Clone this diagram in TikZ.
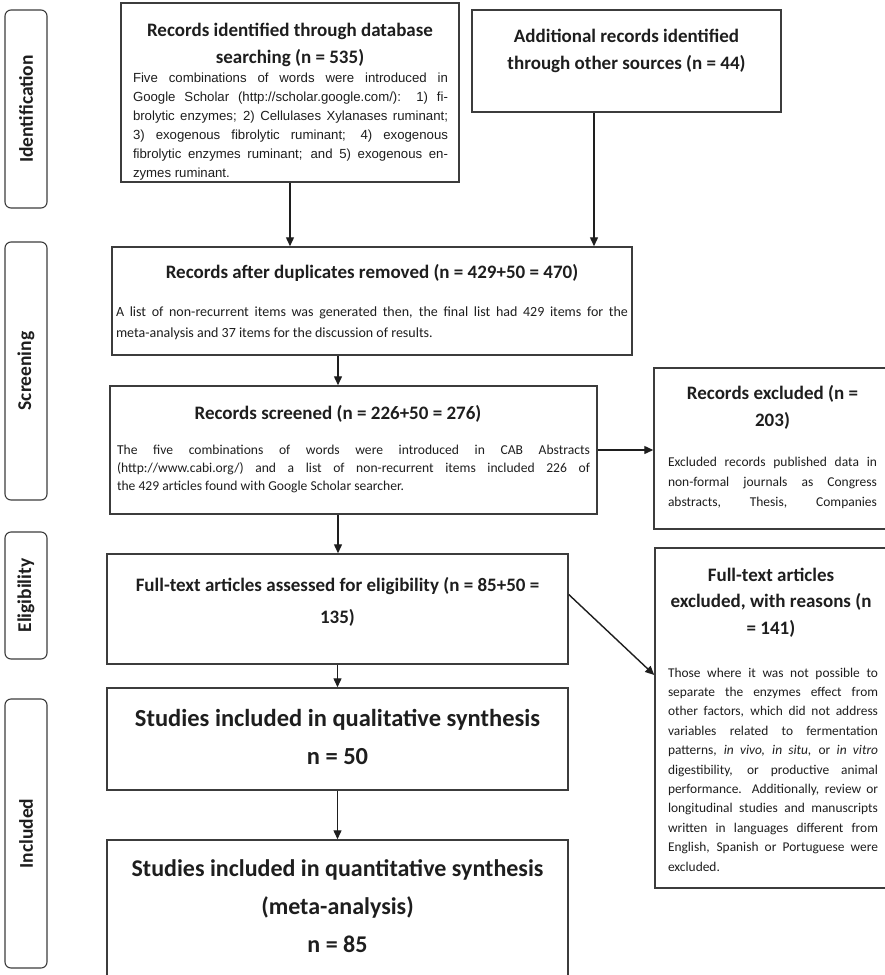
\documentclass[tikz,border=0pt]{standalone}
\usepackage{fontspec}
\setmainfont{Carlito}
\newfontfamily\arialfont{Liberation Sans}
\usetikzlibrary{arrows.meta}
\newlength{\spreadw}
\newcommand{\spreadline}[1]{\makebox[\spreadw][s]{\spaceskip=0pt\xspaceskip=0pt #1}}

\begin{document}
\begin{tikzpicture}[x=1pt,y=-1pt]
  \definecolor{frame}{HTML}{3C3C3C}
  \definecolor{ink}{HTML}{1E1E1E}
  \useasboundingbox (0,0) rectangle (885,975);
  \fill[white] (0,0) rectangle (885,975);
  \clip (0,0) rectangle (885,975);

  \tikzset{
    stage/.style={draw=frame, line width=1.1pt, rounded corners=6pt, rotate=90,
      minimum height=42pt, inner sep=0pt, text=ink, font=\bfseries\fontsize{19.5}{23}\selectfont},
    box/.style={draw=frame, line width=1.5pt, inner sep=0pt},
    head/.style={anchor=north, inner sep=0pt, align=center, text=ink,
      font=\bfseries\fontsize{19}{27}\selectfont},
    spreadwidth/.code={\setlength{\spreadw}{#1}},
    body/.style={anchor=north, inner sep=0pt, align=justify, text=ink,
      text width=#1, spreadwidth=#1},
    flow/.style={line width=1.4pt, draw=ink, -{Triangle[length=9pt,width=8pt]}}
  }

  % Stages down the left margin.
  \node[stage, minimum width=198pt] (ident) at (26,109) {Identification};
  \node[stage, minimum width=258pt] (screen) at (26,371) {Screening};
  \node[stage, minimum width=127pt] (elig) at (26,595.5) {Eligibility};
  \node[stage, minimum width=269pt] (incl) at (26,833.5) {Included};

  % Frames; the ones at the right and bottom run past the page edge.
  \node[box, minimum width=338pt, minimum height=179pt] (dbsearch) at (290,92.5) {};
  \node[box, minimum width=309pt, minimum height=102pt] (othersrc) at (626.5,61) {};
  \node[box, minimum width=520pt, minimum height=108pt] (dedup) at (372,301) {};
  \node[box, minimum width=487pt, minimum height=128pt] (screened) at (353.5,450) {};
  \node[box, minimum width=246pt, minimum height=161pt] (recexcl) at (777,448.5) {};
  \node[box, minimum width=461pt, minimum height=110pt] (fulltext) at (337.5,609) {};
  \node[box, minimum width=246pt, minimum height=340pt] (ftexcl) at (778,718) {};
  \node[box, minimum width=461pt, minimum height=102pt] (qual) at (337.5,739) {};
  \node[box, minimum width=461pt, minimum height=160pt] (quant) at (337.5,920) {};

  \node[head] (dbsearch-head) at (290,17.1) {\strut Records identified through database\\searching (n = 535)};
  \node[body=315pt, font=\arialfont\fontsize{13.2}{19}\selectfont] (dbsearch-body) at (290.5,68.7)
    {\strut\spreadline{Five combinations of words were introduced in}\\
     \spreadline{Google Scholar (http://scholar.google.com/): 1) fi-}\\
     \spreadline{brolytic enzymes; 2) Cellulases Xylanases ruminant;}\\
     \spreadline{3) exogenous fibrolytic ruminant; 4) exogenous}\\
     \spreadline{fibrolytic enzymes ruminant; and 5) exogenous en-}\\
     zymes ruminant.};
  \node[head] (othersrc-head) at (626.5,23.1) {\strut Additional records identified\\through other sources (n = 44)};

  \node[head] (dedup-head) at (372,259.1) {\strut Records after duplicates removed (n = 429+50 = 470)};
  \node[body=512pt, font=\fontsize{14}{21}\selectfont] (dedup-body) at (372,301.3)
    {\strut\spreadline{A list of non-recurrent items was generated then, the final list had 429 items for the}\\
     meta-analysis and 37 items for the discussion of results.};

  \node[head] (screened-head) at (338,400.1) {\strut Records screened (n = 226+50 = 276)};
  \node[body=473pt, font=\fontsize{13.6}{18}\selectfont] (screened-body) at (353.5,441.4)
    {\strut\spreadline{The five combinations of words were introduced in CAB Abstracts}\\
     \spreadline{(http://www.cabi.org/) and a list of non-recurrent items included 226 of}\\
     the 429 articles found with Google Scholar searcher.};

  \node[head] (recexcl-head) at (772.5,380.1) {\strut Records excluded (n =\\203)};
  \node[body=209pt, font=\fontsize{13.5}{20}\selectfont] (recexcl-body) at (772.5,452)
    {\strut\spreadline{Excluded records published data in}\\
     \spreadline{non-formal journals as Congress}\\
     \spreadline{abstracts, Thesis, Companies}};

  \node[head, font=\bfseries\fontsize{19}{32}\selectfont] (fulltext-head) at (337.5,568.6)
    {\strut Full-text articles assessed for eligibility (n = 85+50 =\\135)};

  \node[head, font=\bfseries\fontsize{19}{26.5}\selectfont] (ftexcl-head) at (771,562.5)
    {\strut Full-text articles\\excluded, with reasons (n\\= 141)};
  \node[body=210pt, font=\fontsize{13.4}{19.4}\selectfont] (ftexcl-body) at (773,663.4)
    {\strut\spreadline{Those where it was not possible to}\\
     \spreadline{separate the enzymes effect from}\\
     \spreadline{other factors, which did not address}\\
     \spreadline{variables related to fermentation}\\
     \spreadline{patterns, \textit{in vivo, in situ,} or \textit{in vitro}}\\
     \spreadline{digestibility, or productive animal}\\
     \spreadline{performance. Additionally, review or}\\
     \spreadline{longitudinal studies and manuscripts}\\
     \spreadline{written in languages different from}\\
     \spreadline{English, Spanish or Portuguese were}\\
     excluded.};

  \node[head, font=\bfseries\fontsize{24.5}{38}\selectfont] (qual-head) at (337.5,699.4)
    {\strut Studies included in qualitative synthesis\\n = 50};
  \node[head, font=\bfseries\fontsize{24}{36}\selectfont] (quant-head) at (337.5,851)
    {\strut Studies included in quantitative synthesis\\[2pt](meta-analysis)\\[2pt]n = 85};

  % Connectors.
  \coordinate (othersrc-out) at ([xshift=-32.5pt]othersrc.south);
  \coordinate (fulltext-out) at ([yshift=14.5pt]fulltext.east);
  \coordinate (ftexcl-in) at ([yshift=43pt]ftexcl.west);
  \draw[flow] (dbsearch.south) -- (dbsearch.south |- dedup.north);
  \draw[flow] (othersrc-out) -- (othersrc-out |- dedup.north);
  \draw[flow] (screened-head.north |- dedup.south) -- (screened-head.north |- screened.north);
  \draw[flow] (screened.east) -- (screened.east -| recexcl.west);
  \draw[flow] (screened-head.north |- screened.south) -- (screened-head.north |- fulltext.north);
  \draw[flow] (fulltext-out) -- (ftexcl-in);
  \draw[flow] (fulltext.south) -- (qual.north);
  \draw[flow] (qual.south) -- (quant.north);
\end{tikzpicture}
\end{document}
